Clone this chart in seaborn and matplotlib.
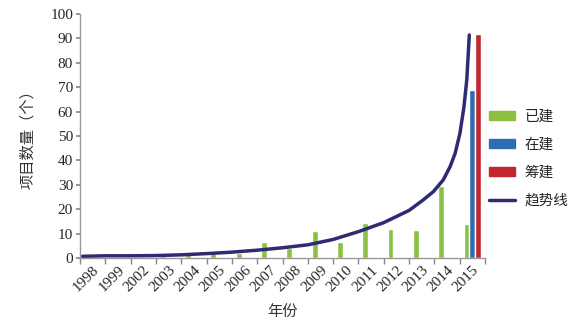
import numpy as np
import pandas as pd
import matplotlib
matplotlib.use("Agg")
import matplotlib.pyplot as plt
import seaborn as sns
from matplotlib.patches import Patch
from matplotlib.lines import Line2D

years = ["1998", "1999", "2002", "2003", "2004", "2005", "2006", "2007",
         "2008", "2009", "2010", "2011", "2012", "2013", "2014", "2015"]
built = [1, 0, 0, 1, 2, 3, 2, 6.5, 4, 11, 6.7, 14.5, 11.8, 11.5, 29.6, 14]
building = [0, 0, 0, 0, 0, 0, 0, 0, 0, 0, 0, 0, 0, 0, 0, 69]
planned = [0, 0, 0, 0, 0, 0, 0, 0, 0, 0, 0, 0, 0, 0, 0, 92]
series_names = ["已建", "在建", "筹建"]
legend_trend = "趋势线"
# trend line: position in category units (0 = left edge of 1998)
trend_pos = [0.1, 1.0, 2.0, 3.0, 4.0, 5.0, 6.0, 7.0, 8.0, 9.0, 10.0, 11.0,
             12.0, 13.0, 13.56, 13.96, 14.35, 14.62, 14.82, 15.01, 15.17,
             15.28, 15.34, 15.38]
trend_val = [0.7, 0.9, 0.9, 1.0, 1.3, 1.8, 2.4, 3.2, 4.2, 5.4, 7.6, 10.8,
             14.5, 19.5, 23.8, 27.2, 32.0, 37.4, 42.9, 51.1, 62.0,
             73.0, 83.9, 91.4]

colors = ["#8cc043", "#2f6db3", "#c1272d"]
line_color = "#2e2b73"

sns.set_theme(style="white")
plt.rcParams["font.family"] = ["Liberation Serif", "Noto Sans CJK SC", "DejaVu Sans"]

df = pd.DataFrame({
    "year": years * 3,
    "type": [series_names[0]] * 16 + [series_names[1]] * 16 + [series_names[2]] * 16,
    "value": built + building + planned,
})

fig = plt.figure(figsize=(5.83, 3.29), dpi=100)
ax = fig.add_axes([80 / 583, 1 - 258 / 329, 405 / 583, 244 / 329])

sns.barplot(data=df, x="year", y="value", hue="type", order=years,
            hue_order=series_names, palette=colors, width=0.69,
            saturation=1, ax=ax, legend=False, errorbar=None)

sns.lineplot(x=np.array(trend_pos) - 0.5, y=trend_val, sort=False, ax=ax,
             color=line_color, linewidth=2.5, legend=False)

ax.set_xlim(-0.5, 15.5)
ax.set_ylim(0, 100)
ax.set_yticks(np.arange(0, 101, 10))
ax.tick_params(axis="y", labelsize=11, length=3, direction="out", color="#888888",
               left=True, pad=2)
ax.set_xticks(range(16))
ax.set_xticklabels(years, rotation=45, ha="right", rotation_mode="anchor", fontsize=11)
ax.tick_params(axis="x", which="major", length=0, pad=4)
ax.set_xticks(np.arange(-0.5, 16, 1), minor=True)
ax.tick_params(axis="x", which="minor", length=4, direction="out", color="#888888",
               bottom=True)
for s in ["top", "right"]:
    ax.spines[s].set_visible(False)
for s in ["left", "bottom"]:
    ax.spines[s].set_color("#999999")
    ax.spines[s].set_linewidth(1.0)

ax.set_xlabel("年份", fontsize=11, family=["Noto Sans CJK SC"], labelpad=6, color="#333333")
ax.set_ylabel("项目数量（个）", fontsize=11, family=["Noto Sans CJK SC"], labelpad=10, color="#333333")

handles = [Patch(facecolor=c, edgecolor=c) for c in colors] + \
          [Line2D([0], [0], color=line_color, linewidth=2.5)]
labels = series_names + [legend_trend]
fig.legend(handles, labels, loc="upper left", bbox_to_anchor=(489 / 583, 1 - 110 / 329),
           frameon=False, prop={"family": "Noto Sans CJK SC", "size": 10.5},
           borderpad=0, borderaxespad=0,
           handlelength=1.75, handleheight=0.55, labelspacing=0.95, handletextpad=0.7)

fig.savefig("out.png", dpi=100)
